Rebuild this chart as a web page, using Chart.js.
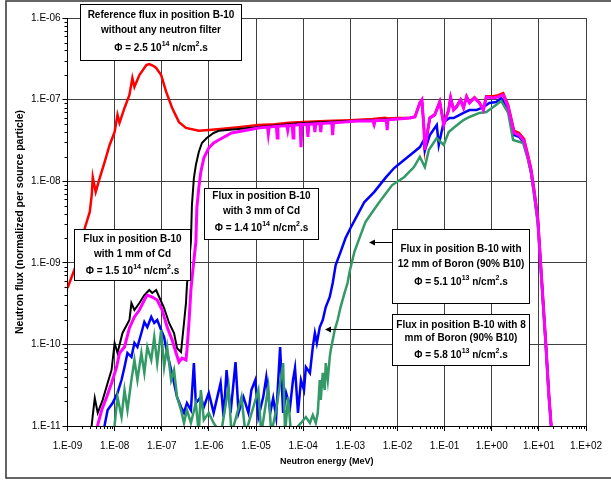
<!DOCTYPE html>
<html><head><meta charset="utf-8">
<script src="https://cdn.jsdelivr.net/npm/chart.js@4.4.1/dist/chart.umd.min.js"></script>
<style>html,body{margin:0;padding:0;background:#fff}#wrap{width:611px;height:483px;position:relative}</style>
</head><body><div id="wrap"><canvas id="c" width="611" height="483"></canvas></div>
<script>
// ---- axis ticks ----
const xTicks = [1e-9,1e-8,1e-7,1e-6,1e-5,1e-4,1e-3,1e-2,1e-1,1e0,1e1,1e2];
const xTickLabels = ['1.E-09','1.E-08','1.E-07','1.E-06','1.E-05','1.E-04','1.E-03','1.E-02','1.E-01','1.E+00','1.E+01','1.E+02'];
const yTicks = [1e-11,1e-10,1e-9,1e-8,1e-7,1e-6];
const yTickLabels = ['1.E-11','1.E-10','1.E-09','1.E-08','1.E-07','1.E-06'];
const xTitle = 'Neutron energy (MeV)';
const yTitle = 'Neutron flux (normalized per source particle)';

// ---- series: energy (MeV) and flux ----
// shared fast-neutron energy grid
const fastE = [0.01845,0.0235,0.0299,0.033,0.0363,0.0381,0.0442,0.0486,0.0619,0.0789,0.0869,0.0957,0.122,0.134,0.155,0.179,0.218,0.252,0.292,0.337,0.43,0.547,0.664,0.767,1.08,1.37,1.75,2.23,2.58,2.98,3.8,4.84,5.87,6.8,7.85,9.5,11.0,14.0,16.2,18.5];
const magentaFastF = [5.95e-8,6.12e-8,9.1e-8,9.9e-8,4.61e-8,2.41e-8,4.24e-8,5.95e-8,6.48e-8,9.35e-8,6.86e-8,4.88e-8,7.45e-8,1.05e-7,7.45e-8,8.1e-8,9.9e-8,7.9e-8,1.08e-7,9.1e-8,1.05e-7,9.1e-8,7.45e-8,1.08e-7,1.05e-7,1.08e-7,1.14e-7,8.1e-8,5.62e-8,3.9e-8,3.68e-8,3.11e-8,1.98e-8,1.37e-8,7.8e-9,3.35e-9,8.9e-10,1.04e-10,2.54e-11,9e-12];
const redFastF = [6.0e-8,6.2e-8,9.2e-8,1.0e-7,4.7e-8,2.5e-8,4.3e-8,6.0e-8,6.6e-8,9.5e-8,7.0e-8,5.0e-8,7.6e-8,1.07e-7,7.6e-8,8.3e-8,1.0e-7,8.0e-8,1.1e-7,9.3e-8,1.07e-7,9.3e-8,7.6e-8,1.1e-7,1.1e-7,1.13e-7,1.2e-7,8.6e-8,6.0e-8,4.15e-8,3.9e-8,3.3e-8,2.1e-8,1.45e-8,8.3e-9,3.6e-9,9.5e-10,1.1e-10,2.7e-11,9e-12];

// Reference (no filter) - red
const redE = [1e-9,1.44e-9,2.33e-9,2.97e-9,3.27e-9,3.44e-9,3.97e-9,4.82e-9,6.15e-9,7.83e-9,9.98e-9,1.15e-8,1.27e-8,1.62e-8,2.06e-8,2.38e-8,2.63e-8,3.35e-8,4.7e-8,5.43e-8,6.6e-8,7.6e-8,9.7e-8,1.24e-7,1.66e-7,2.32e-7,3.26e-7,6.1e-7,1e-6,2e-6,4.25e-6,1.12e-5,2.5e-5,5e-5,1e-4,3e-4,1e-3,3e-3,5.5e-3,6e-3,0.01];
const redF = [4.9e-10,8.6e-10,2.67e-9,4.2e-9,6.8e-9,1.12e-8,7.4e-9,1.09e-8,1.72e-8,2.78e-8,4.0e-8,6.5e-8,5.2e-8,7.9e-8,1.14e-7,1.84e-7,1.43e-7,2.0e-7,2.65e-7,2.73e-7,2.6e-7,2.44e-7,2.0e-7,1.24e-7,7.9e-8,5.3e-8,4.5e-8,4.15e-8,4.24e-8,4.4e-8,4.6e-8,4.9e-8,5.0e-8,5.2e-8,5.3e-8,5.45e-8,5.6e-8,5.8e-8,6.0e-8,5.85e-8,5.95e-8];

// 1 mm Cd - black
const blackE = [3.1e-9,3.27e-9,3.44e-9,3.79e-9,4.38e-9,5.58e-9,7.1e-9,8.6e-9,1.0e-8,1.15e-8,1.47e-8,2.06e-8,2.27e-8,2.63e-8,3.35e-8,4.27e-8,5.43e-8,6.28e-8,7.6e-8,8.8e-8,1.12e-7,1.43e-7,1.82e-7,2.11e-7,2.56e-7,2.96e-7,3.26e-7,3.42e-7,4.15e-7,4.36e-7,4.8e-7,5.29e-7,6.1e-7,7.1e-7,9.0e-7,1.26e-6,1.61e-6,4.25e-6,1.12e-5,1e-4,1e-3,0.01];
const blackF = [8e-12,1.03e-11,1.36e-11,2.2e-11,1.45e-11,2.09e-11,3.37e-11,4.85e-11,1.04e-10,7.85e-11,1.38e-10,1.99e-10,3.21e-10,2.64e-10,3.21e-10,4.03e-10,4.64e-10,4.27e-10,4.64e-10,3.81e-10,2.79e-10,1.83e-10,1.38e-10,9.0e-11,8.07e-11,1.83e-10,3.21e-10,5.35e-10,1.8e-9,5.1e-9,1.09e-8,1.58e-8,2.28e-8,2.94e-8,3.38e-8,3.9e-8,4.15e-8,4.36e-8,4.61e-8,5.17e-8,5.47e-8,5.78e-8];

// 3 mm Cd - magenta
const magentaE = [4.1e-9,4.38e-9,5.32e-9,6.78e-9,8.63e-9,1.1e-8,1.27e-8,1.62e-8,2.06e-8,2.63e-8,3.35e-8,4.27e-8,4.93e-8,6.28e-8,8.0e-8,1.02e-7,1.3e-7,1.66e-7,2.01e-7,2.32e-7,2.69e-7,3.26e-7,3.42e-7,3.77e-7,4.15e-7,4.57e-7,5.29e-7,5.55e-7,6.1e-7,6.74e-7,7.8e-7,9.9e-7,1.26e-6,1.61e-6,3.02e-6,1.12e-5,1.75e-5,1.82e-5,1.9e-5,2.7e-5,2.81e-5,2.92e-5,4.5e-5,4.7e-5,4.9e-5,5.85e-5,6.1e-5,6.35e-5,8.6e-5,8.98e-5,9.4e-5,1.2e-4,1.26e-4,1.32e-4,1.7e-4,1.77e-4,1.85e-4,2.27e-4,2.36e-4,2.45e-4,4.05e-4,4.22e-4,4.4e-4,1.42e-3,3.0e-3,3.2e-3,3.4e-3,5.8e-3,6.05e-3,6.3e-3];
const magentaF = [8e-12,1.03e-11,1.57e-11,2.26e-11,3.37e-11,5.28e-11,7.85e-11,9.3e-11,1.59e-10,2.17e-10,2.64e-10,3.5e-10,4.03e-10,3.81e-10,3.5e-10,2.64e-10,1.63e-10,1.13e-10,7.85e-11,6.08e-11,6.8e-11,6.44e-11,8.5e-11,1.83e-10,4.64e-10,8.2e-10,1.8e-9,4.7e-9,8.3e-9,1.3e-8,1.92e-8,2.55e-8,2.94e-8,3.2e-8,3.9e-8,4.49e-8,4.6e-8,3.79e-8,4.6e-8,4.7e-8,3.38e-8,4.7e-8,4.8e-8,4.2e-8,4.8e-8,4.85e-8,3.38e-8,4.85e-8,4.95e-8,2.62e-8,4.95e-8,5.0e-8,3.48e-8,5.0e-8,5.05e-8,4.0e-8,5.05e-8,5.1e-8,4.0e-8,5.1e-8,5.2e-8,3.68e-8,5.2e-8,5.47e-8,5.5e-8,4.9e-8,5.55e-8,5.6e-8,4.24e-8,5.65e-8];

// Boron filter - blue
const blueE = [5.8e-9,6.15e-9,7.1e-9,9.06e-9,1.15e-8,1.4e-8,1.62e-8,1.87e-8,2.27e-8,2.63e-8,3.04e-8,3.69e-8,4.27e-8,4.93e-8,5.98e-8,6.92e-8,8.0e-8,9.7e-8,1.12e-7,1.3e-7,1.58e-7,1.82e-7,2.11e-7,2.56e-7,2.96e-7,3.42e-7,4.15e-7,4.8e-7,5.28e-7,6.74e-7,7.8e-7,9.93e-7,1.26e-6,1.46e-6,1.77e-6,2.05e-6,2.37e-6,2.88e-6,3.67e-6,4.25e-6,5.41e-6,6.89e-6,7.96e-6,9.66e-6,1.12e-5,1.42e-5,1.65e-5,2.0e-5,2.31e-5,2.67e-5,3.24e-5,3.75e-5,4.34e-5,5.26e-5,6.08e-5,6.71e-5,7.76e-5,8.98e-5,1.04e-4,1.14e-4,1.39e-4,1.6e-4,1.77e-4,1.95e-4,2.25e-4,2.6e-4,3.01e-4,3.66e-4,4.23e-4,4.89e-4,6.22e-4,7.92e-4,1.01e-3,1.42e-3,1.99e-3,3.23e-3,5.5e-3,8.5e-3,0.0138,0.0224,0.0299,0.0363,0.0381,0.0486,0.0682,0.0752,0.0957,0.128,0.155,0.252,0.337,0.473,0.664,0.887,1.25,1.59,2.23,2.58,2.98,3.8,4.84,5.87,6.8,7.85,9.5,11.0,14.0,16.2,18.5];
const blueF = [8e-12,1.03e-11,1.57e-11,1.91e-11,2.54e-11,3.66e-11,5.28e-11,7.85e-11,7.0e-11,1.04e-10,9.3e-11,1.38e-10,1.88e-10,1.63e-10,2.17e-10,1.83e-10,1.99e-10,1.5e-10,1.23e-10,7.85e-11,4.85e-11,3.37e-11,2.26e-11,1.71e-11,1.45e-11,1.91e-11,1.57e-11,5.9e-11,1.91e-11,2.26e-11,1.71e-11,2.54e-11,1.45e-11,2.09e-11,3.37e-11,1.29e-11,4.85e-11,1.45e-11,6.08e-11,1.45e-11,2.26e-11,1.45e-11,2.76e-11,3.66e-11,1.29e-11,2.26e-11,3.98e-11,1.45e-11,2.2e-11,1.29e-11,9.3e-11,1.45e-11,2.54e-11,1.71e-11,3.66e-11,5.14e-11,1.45e-11,3.66e-11,2.76e-11,5.28e-11,4.47e-11,9.3e-11,1.38e-10,1.04e-10,1.63e-10,1.99e-10,2.87e-10,3.81e-10,5.65e-10,9.4e-10,1.36e-9,2.01e-9,2.67e-9,3.86e-9,5.56e-9,7.4e-9,1.09e-8,1.45e-8,1.82e-8,2.28e-8,2.62e-8,3.2e-8,2.4e-8,3.68e-8,4.88e-8,2.78e-8,5.31e-8,5.95e-8,5.95e-8,6.86e-8,7.45e-8,7.45e-8,8.1e-8,9.1e-8,9.35e-8,1.05e-7,7.45e-8,5.31e-8,3.68e-8,3.5e-8,2.94e-8,1.9e-8,1.3e-8,7.4e-9,3.2e-9,8.5e-10,1.0e-10,2.4e-11,9e-12];

// Boron filter - green
const greenE = [9.5e-9,1.0e-8,1.15e-8,1.4e-8,1.62e-8,1.87e-8,2.27e-8,2.63e-8,3.04e-8,3.69e-8,4.27e-8,4.93e-8,5.98e-8,6.92e-8,8.0e-8,9.7e-8,1.12e-7,1.3e-7,1.58e-7,1.82e-7,2.11e-7,2.56e-7,2.96e-7,3.42e-7,4.15e-7,5.28e-7,6.1e-7,6.74e-7,7.8e-7,9.93e-7,1.26e-6,1.8e-6,2.61e-6,3.02e-6,4.91e-6,5.96e-6,1.12e-5,1.29e-5,1.82e-5,2.1e-5,2.67e-5,3.75e-5,4.13e-5,4.78e-5,5.52e-5,8.98e-5,1.14e-4,1.39e-4,1.6e-4,1.85e-4,2.04e-4,2.25e-4,2.36e-4,2.6e-4,2.86e-4,3.01e-4,3.32e-4,3.66e-4,3.84e-4,4.66e-4,5.38e-4,6.22e-4,7.55e-4,8.73e-4,9.62e-4,1.22e-3,1.56e-3,2.09e-3,2.93e-3,4.75e-3,7.73e-3,0.0138,0.0224,0.0299,0.0381,0.0463,0.0682,0.0957,0.122,0.163,0.252,0.337,0.547,0.767,1.08,1.59,2.23,2.84,4.61,5.87,6.8,7.85,9.5,11.0,14.0,16.2,18.5];
const greenF = [8e-12,1.03e-11,2.26e-11,1.29e-11,2.76e-11,1.57e-11,3.66e-11,6.44e-11,3.66e-11,7.85e-11,4.47e-11,9.3e-11,6.44e-11,1.23e-10,5.9e-11,1.5e-10,5.28e-11,9.3e-11,3.66e-11,4.85e-11,2.26e-11,1.57e-11,1.09e-11,1.57e-11,1.09e-11,1.91e-11,8e-12,2.76e-11,1.19e-11,1.45e-11,1.09e-11,8e-12,3.0e-11,8e-12,2.26e-11,8e-12,2.76e-11,8e-12,3.0e-11,8e-12,1.57e-11,5.9e-11,8e-12,2.26e-11,8e-12,1.09e-11,1.29e-11,1.09e-11,1.36e-11,1.09e-11,1.45e-11,3.66e-11,2.09e-11,4.47e-11,2.76e-11,5.9e-11,3.66e-11,7.0e-11,8.5e-11,1.5e-10,1.99e-10,2.87e-10,4.27e-10,5.65e-10,7.7e-10,1.36e-9,2.01e-9,3.16e-9,4.2e-9,6.2e-9,8.97e-9,1.12e-8,1.49e-8,1.98e-8,1.49e-8,2.41e-8,3.38e-8,2.78e-8,4.0e-8,4.61e-8,5.62e-8,6.12e-8,6.86e-8,7.05e-8,8.1e-8,9.6e-8,6.86e-8,3.2e-8,2.94e-8,1.85e-8,1.25e-8,7.0e-9,3.0e-9,8.0e-10,9.5e-11,2.3e-11,9e-12];

// ---- annotation texts ----
const notes = [
  {lines:['Reference flux in position B-10','without any neutron filter'], phi:['2.5','14']},
  {lines:['Flux in position B-10','with 1 mm of Cd'], phi:['1.5','14']},
  {lines:['Flux in position B-10','with 3 mm of Cd'], phi:['1.4','14']},
  {lines:['Flux in position B-10 with','12 mm of Boron (90% B10)'], phi:['5.1','13']},
  {lines:['Flux in position B-10 with 8','mm of Boron (90% B10)'], phi:['5.8','13']}
];

function pts(E, F){ const n=Math.min(E.length,F.length); const a=[]; for(let i=0;i<n;i++) a.push({x:E[i], y:F[i]}); return a; }

const FONT = "'Liberation Sans', Arial, sans-serif";
Chart.defaults.font.family = FONT;

const boxes = [
  {x:80, y:4, w:161, h:56, ly:[15,30,48]},
  {x:74, y:229, w:116, h:51, ly:[239,254,271]},
  {x:204, y:188, w:114, h:51, ly:[196,211,228]},
  {x:392, y:229, w:137, h:74, ly:[249,264,282], arrow:{y:242, x:369}},
  {x:392, y:314, w:137, h:51, ly:[325,338,355], arrow:{y:329, x:325}}
];

const deco = {
  id:'deco',
  beforeDraw(chart){
    const c = chart.ctx;
    c.save(); c.fillStyle='#fff'; c.fillRect(0,0,chart.width,chart.height); c.restore();
  },
  afterDraw(chart){
    const c = chart.ctx, ca = chart.chartArea, xs = chart.scales.x, ys = chart.scales.y;
    c.save();
    // minor ticks
    c.strokeStyle='#000'; c.lineWidth=1;
    c.beginPath();
    for (let i=0;i<xTicks.length-1;i++){
      for (let k=2;k<=9;k++){
        const px = Math.round(xs.getPixelForValue(k*xTicks[i]))+0.5;
        c.moveTo(px, ca.bottom); c.lineTo(px, ca.bottom+3);
      }
    }
    for (let i=0;i<yTicks.length-1;i++){
      for (let k=2;k<=9;k++){
        const py = Math.round(ys.getPixelForValue(k*yTicks[i]))+0.5;
        c.moveTo(ca.left-3, py); c.lineTo(ca.left, py);
      }
    }
    c.stroke();
    // outer frame
    c.strokeStyle='#333'; c.lineWidth=1.5;
    c.beginPath(); c.moveTo(620,1); c.lineTo(6,1); c.lineTo(6,478); c.lineTo(620,478); c.stroke();
    // annotation boxes
    boxes.forEach((b,i)=>{
      const n = notes[i];
      c.fillStyle='#fff'; c.fillRect(b.x,b.y,b.w,b.h);
      c.strokeStyle='#000'; c.lineWidth=1;
      c.strokeRect(b.x+0.5,b.y+0.5,b.w,b.h);
      const cx = b.x + b.w/2 + 0.5;
      c.fillStyle='#000'; c.textBaseline='middle'; c.textAlign='left';
      c.font = "bold 10px "+FONT;
      n.lines.forEach((t,j)=>{ const w=c.measureText(t).width; c.fillText(t, cx-w/2, b.ly[j]); });
      const parts = [
        {t:'\u03A6 = '+n.phi[0]+' 10', s:false},
        {t:n.phi[1], s:true},
        {t:' n/cm', s:false},
        {t:'2', s:true},
        {t:'.s', s:false}
      ];
      let tw = 0;
      parts.forEach(p=>{ c.font = (p.s?"bold 7px ":"bold 10px ")+FONT; p.w=c.measureText(p.t).width; tw+=p.w; });
      let x = cx - tw/2;
      parts.forEach(p=>{ c.font = (p.s?"bold 7px ":"bold 10px ")+FONT; c.fillText(p.t, x, b.ly[2] - (p.s?4:0)); x+=p.w; });
      if (b.arrow){
        c.strokeStyle='#000'; c.lineWidth=1;
        c.beginPath(); c.moveTo(b.x, b.arrow.y+0.5); c.lineTo(b.arrow.x+4, b.arrow.y+0.5); c.stroke();
        c.beginPath(); c.moveTo(b.arrow.x, b.arrow.y+0.5); c.lineTo(b.arrow.x+6, b.arrow.y-2.5); c.lineTo(b.arrow.x+6, b.arrow.y+3.5); c.closePath(); c.fill();
      }
    });
    c.restore();
  }
};

const ds = (label, data, color, width, order) => ({label, data, borderColor:color, backgroundColor:color, borderWidth:width, pointRadius:0, pointHoverRadius:0, fill:false, tension:0, order});

new Chart(document.getElementById('c'), {
  type:'line',
  data:{ datasets:[
    ds('3 mm Cd', pts(magentaE.concat(fastE), magentaF.concat(magentaFastF)), '#FF00FF', 3, 1),
    ds('Boron B', pts(greenE, greenF), '#339966', 2.5, 2),
    ds('Boron A', pts(blueE, blueF), '#0000FF', 2.5, 3),
    ds('1 mm Cd', pts(blackE.concat(fastE), blackF.concat(magentaFastF)), '#000000', 2, 4),
    ds('Reference', pts(redE.concat(fastE), redF.concat(redFastF)), '#FF0000', 2.5, 5)
  ]},
  options:{
    responsive:false, animation:false, devicePixelRatio:1,
    layout:{ padding:{ left:0, top:18, right:20, bottom:0 } },
    plugins:{ legend:{display:false}, tooltip:{enabled:false} },
    scales:{
      x:{ type:'logarithmic', position:'bottom', min:1e-9, max:1e2,
        afterBuildTicks:(s)=>{ s.ticks = xTicks.map(v=>({value:v})); },
        afterFit:(s)=>{ s.height = 57; },
        ticks:{ autoSkip:false, maxRotation:0, minRotation:0, padding:9, color:'#000', font:{size:10},
          callback:(v,i)=>xTickLabels[i] },
        grid:{ color:'#404040', lineWidth:1, tickLength:5, tickColor:'#000', drawTicks:true },
        border:{ color:'#000', width:1 },
        title:{ display:true, text:xTitle, color:'#000', font:{size:9, weight:'bold'}, padding:{top:0, bottom:15.6} }
      },
      y:{ type:'logarithmic', position:'left', min:1e-11, max:1e-6,
        afterBuildTicks:(s)=>{ s.ticks = yTicks.map(v=>({value:v})); },
        afterFit:(s)=>{ s.width = 67.5; },
        ticks:{ autoSkip:false, padding:2, color:'#000', font:{size:10},
          callback:(v,i)=>yTickLabels[i] },
        grid:{ color:'#404040', lineWidth:1, tickLength:5, tickColor:'#000', drawTicks:true },
        border:{ color:'#000', width:1 },
        title:{ display:true, text:yTitle, color:'#000', font:{size:10.5, weight:'bold'}, padding:{top:14, bottom:0} }
      }
    }
  },
  plugins:[deco]
});
</script>
</body></html>
